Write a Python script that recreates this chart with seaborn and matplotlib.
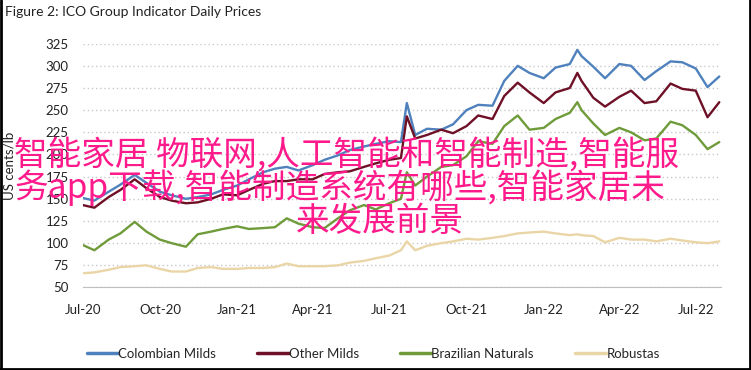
import pandas as pd
import numpy as np
import matplotlib
matplotlib.use("Agg")
import matplotlib.pyplot as plt
import matplotlib.dates as mdates
from matplotlib.lines import Line2D
import seaborn as sns

# === DATA (US cents/lb) ===
dates = [
    "2020-07-01", "2020-07-15", "2020-08-01", "2020-08-15", "2020-09-01", "2020-09-15",
    "2020-10-01", "2020-10-15", "2020-11-01", "2020-11-15", "2020-12-01", "2020-12-15",
    "2021-01-01", "2021-01-15", "2021-02-01", "2021-02-15", "2021-03-01", "2021-03-15",
    "2021-04-01", "2021-04-15", "2021-05-01", "2021-05-15", "2021-06-01", "2021-06-15",
    "2021-07-01", "2021-07-15", "2021-07-22", "2021-08-01", "2021-08-15", "2021-09-01",
    "2021-09-15", "2021-10-01", "2021-10-15", "2021-11-01", "2021-11-15", "2021-12-01",
    "2021-12-15", "2022-01-01", "2022-01-15", "2022-02-01", "2022-02-10", "2022-02-15",
    "2022-03-01", "2022-03-15", "2022-04-01", "2022-04-15", "2022-05-01", "2022-05-15",
    "2022-06-01", "2022-06-15", "2022-07-01", "2022-07-15", "2022-07-29",
]
colombian_milds = [
    151, 148, 158, 166, 177, 168, 158, 154, 150, 152, 155, 160,
    165, 172, 180, 184, 186, 182, 188, 194, 199, 205, 209, 212,
    215, 214, 258, 222, 229, 228, 234, 250, 256, 255, 283, 300,
    292, 286, 298, 302, 318, 311, 299, 286, 302, 300, 284, 294,
    305, 304, 297, 276, 288,
]
other_milds = [
    143, 140, 152, 160, 172, 162, 152, 148, 145, 146, 150, 155,
    154, 160, 167, 170, 170, 172, 172, 178, 180, 181, 186, 190,
    194, 196, 243, 218, 222, 228, 224, 232, 244, 240, 266, 281,
    270, 258, 270, 275, 292, 283, 264, 254, 265, 272, 258, 260,
    280, 274, 272, 242, 259,
]
brazilian_naturals = [
    98, 92, 104, 111, 124, 113, 104, 100, 96, 110, 113, 116,
    119, 116, 117, 118, 128, 122, 118, 117, 128, 137, 143, 138,
    145, 150, 180, 165, 175, 186, 188, 198, 215, 212, 232, 244,
    228, 230, 240, 247, 259, 250, 235, 222, 230, 225, 216, 218,
    237, 233, 222, 206, 214,
]
robustas = [
    66, 67, 70, 73, 74, 75, 71, 68, 68, 72, 73, 71,
    71, 72, 72, 73, 77, 74, 74, 74, 75, 78, 80, 83,
    86, 92, 102, 92, 97, 100, 102, 105, 104, 106, 108, 111,
    112, 113, 111, 109, 110, 109, 108, 101, 106, 104, 104, 102,
    105, 103, 101, 100, 102,
]
series_names = ["Colombian Milds", "Other Milds", "Brazilian Naturals", "Robustas"]
series_colors = ["#4f81bd", "#6e1026", "#6f9b3a", "#ead5a6"]
overlay_lines = [
    "智能家居 物联网,人工智能和智能制造,智能服",
    "务app下载,智能制造系统有哪些,智能家居未",
    "来发展前景",
]

# === PREPROCESS ===
df = pd.DataFrame({
    "date": pd.to_datetime(dates),
    "Colombian Milds": colombian_milds,
    "Other Milds": other_milds,
    "Brazilian Naturals": brazilian_naturals,
    "Robustas": robustas,
})
long_df = df.melt(id_vars="date", var_name="series", value_name="price")

# === PLOT ===
sns.set_style("white")
plt.rcParams["font.family"] = ["Lato", "DejaVu Sans"]

fig = plt.figure(figsize=(7.51, 3.70), dpi=100)
ax = fig.add_axes([0.110, 0.223, 0.850, 0.659])

sns.lineplot(data=long_df, x="date", y="price", hue="series",
             hue_order=series_names, palette=series_colors,
             linewidth=1.7, ax=ax, legend=False)

ax.set_ylim(50, 325)
ax.set_yticks(range(50, 326, 25))
ax.set_xlim(pd.Timestamp("2020-07-01"), pd.Timestamp("2022-07-31"))
ax.xaxis.set_major_locator(mdates.MonthLocator(bymonth=[1, 4, 7, 10]))
ax.xaxis.set_major_formatter(mdates.DateFormatter("%b-%y"))
ax.grid(axis="y", color="#c8c8c8", linestyle=(0, (1, 2)), linewidth=1)
ax.grid(axis="x", visible=False)
for side in ["top", "right", "left"]:
    ax.spines[side].set_visible(False)
ax.spines["bottom"].set_color("#bfbfbf")
ax.tick_params(axis="both", length=0, labelsize=9.5, colors="#222222")
ax.tick_params(axis="y", pad=10)
ax.tick_params(axis="x", pad=12)
ax.set_xlabel("")
ax.set_ylabel("US cents/lb", fontsize=9.5, color="#222222", labelpad=22)

handles = [Line2D([0], [0], color=c, linewidth=2.5) for c in series_colors]
fig.legend(handles, series_names, loc="center", bbox_to_anchor=(0.497, 0.043),
           ncol=4, frameon=False, fontsize=9.5, handlelength=2.4,
           handletextpad=0.0, columnspacing=3.1)

fig.text(0.006, 0.968, "Figure 2: ICO Group Indicator Daily Prices",
         fontsize=10, color="#222222", va="center", ha="left")

# overlay caption
cjk = ["Noto Sans CJK SC", "DejaVu Sans"]
fig.text(14 / 751, 1 - 155 / 370, overlay_lines[0], family=cjk, fontsize=24.2,
         color="#ff1a8c", va="center", ha="left")
fig.text(14 / 751, 1 - 188 / 370, overlay_lines[1], family=cjk, fontsize=24.2,
         color="#ff1a8c", va="center", ha="left")
fig.text(380 / 751, 1 - 221 / 370, overlay_lines[2], family=cjk, fontsize=24.2,
         color="#ff1a8c", va="center", ha="center")

# page frame (left, right, bottom)
for xs, ys in [([0.001, 0.001], [0, 1]), ([0.999, 0.999], [0, 1]), ([0, 1], [0.003, 0.003])]:
    fig.add_artist(Line2D(xs, ys, color="black", linewidth=2, transform=fig.transFigure))

fig.savefig("out.png", dpi=100)
print("[INFO] Saved out.png")
